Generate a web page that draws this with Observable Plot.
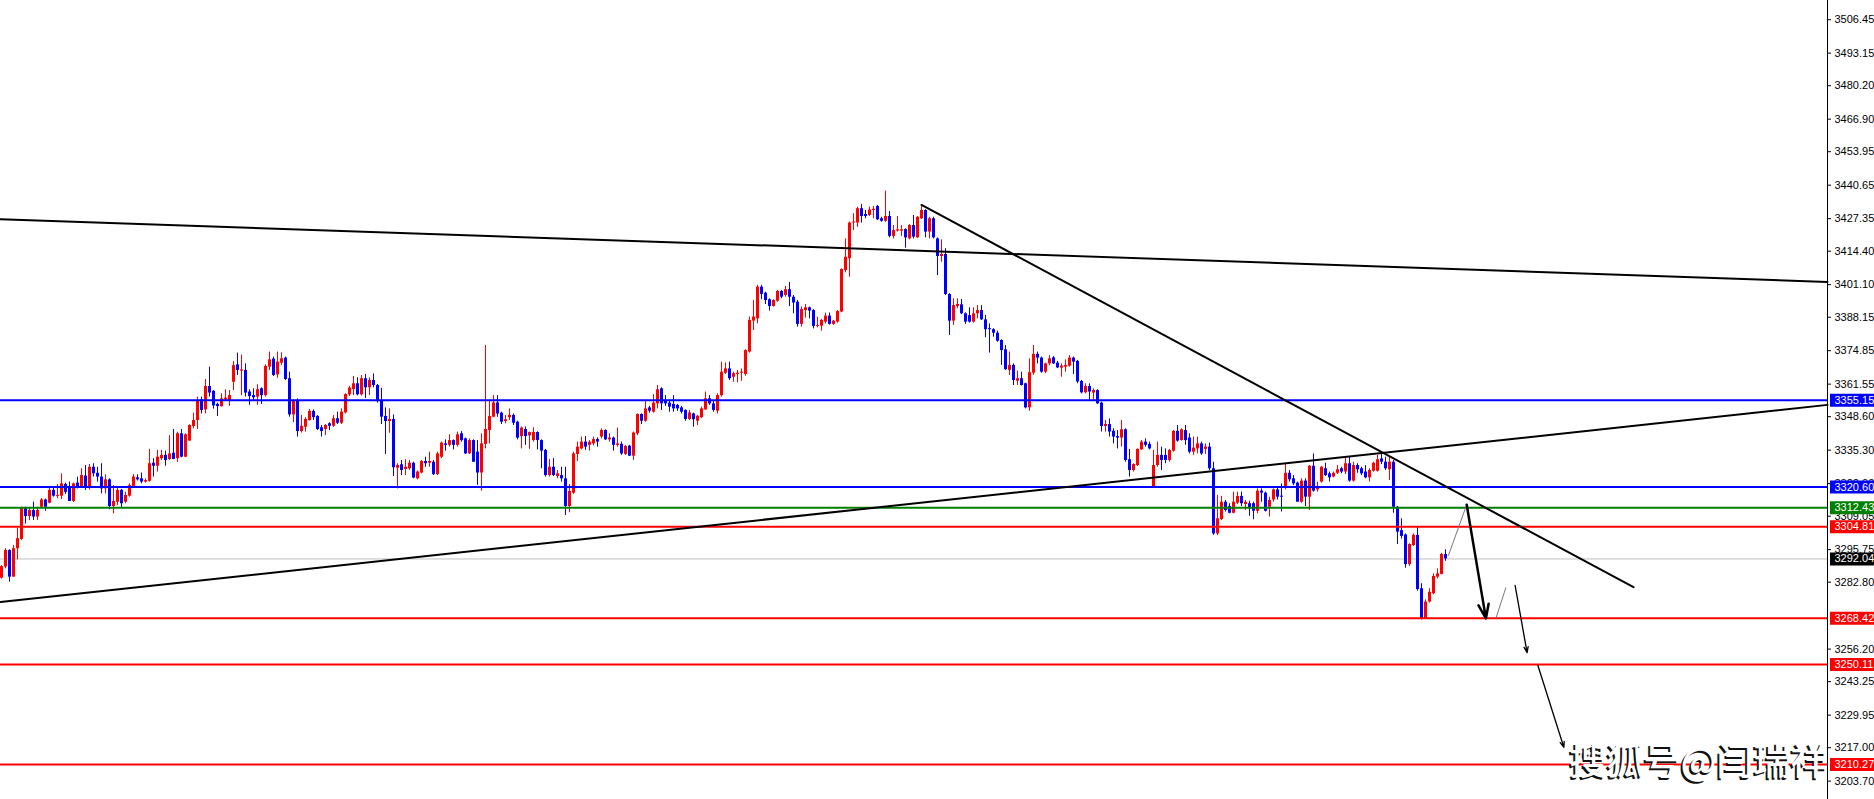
<!DOCTYPE html>
<html>
<head>
<meta charset="utf-8">
<script src="https://cdn.jsdelivr.net/npm/d3@7"></script>
<script src="https://cdn.jsdelivr.net/npm/@observablehq/plot@0.6"></script>
<style>
  html, body { margin: 0; padding: 0; background: #ffffff; }
  #chart svg { display: block; }
</style>
</head>
<body>
<div id="chart"></div>
<script>
// Gold H1 candles: open / high / low / close, oldest first
const opens = [
  3284.4,3288.8,3295.4,3284.8,3296.1,3299.8,3312.4,3308.9,3311.3,3308.7,
  3312.6,3315.5,3314.2,3319.3,3316.9,3317.0,3321.7,3320.6,3314.9,3322.2,
  3320.6,3325.0,3320.6,3328.5,3326.1,3324.6,3319.9,3323.5,3312.9,3314.6,
  3319.3,3314.6,3317.0,3320.9,3324.3,3323.9,3322.6,3322.9,3330.1,3328.9,
  3331.9,3333.2,3331.6,3334.1,3331.9,3341.8,3332.5,3338.9,3344.7,3347.1,
  3355.3,3351.3,3360.6,3358.7,3353.5,3352.6,3355.3,3355.0,3362.3,3369.2,
  3366.7,3367.0,3358.4,3357.0,3356.4,3359.7,3357.0,3368.3,3371.5,3365.2,
  3369.9,3371.9,3363.7,3349.3,3355.0,3342.7,3344.4,3347.1,3350.7,3348.7,
  3344.2,3343.5,3345.8,3344.8,3347.8,3346.0,3350.1,3357.3,3359.4,3361.7,
  3357.3,3363.7,3360.1,3363.0,3361.0,3355.0,3348.7,3346.7,3347.5,3328.1,
  3329.5,3327.6,3327.9,3330.1,3323.9,3326.2,3330.8,3330.1,3330.5,3325.6,
  3332.5,3337.8,3337.2,3339.1,3337.2,3341.8,3339.8,3333.8,3339.1,3334.5,
  3326.2,3337.6,3343.1,3348.4,3354.1,3350.0,3346.7,3348.2,3349.1,3346.4,
  3340.7,3343.5,3341.0,3339.1,3342.3,3339.1,3335.2,3325.2,3328.5,3324.8,
  3325.2,3323.9,3312.9,3318.2,3333.6,3335.8,3338.5,3337.2,3337.8,3339.5,
  3340.5,3343.1,3339.4,3340.1,3337.2,3337.6,3333.6,3336.9,3332.9,3341.8,
  3349.5,3346.8,3352.1,3350.4,3353.7,3359.7,3355.0,3354.0,3353.5,3353.1,
  3352.1,3351.1,3347.5,3349.7,3346.8,3348.2,3351.3,3355.7,3353.7,3350.8,
  3357.0,3365.9,3367.6,3364.3,3365.4,3365.9,3365.4,3374.3,3386.6,3387.5,
  3400.1,3397.7,3395.1,3392.4,3394.5,3398.4,3396.8,3399.1,3396.1,3394.1,
  3385.3,3390.8,3391.9,3390.8,3384.5,3384.6,3386.2,3388.6,3385.3,3386.2,
  3390.2,3406.7,3411.4,3425.6,3425.6,3431.3,3429.0,3428.6,3430.6,3432.2,
  3427.3,3426.3,3428.2,3420.3,3422.4,3422.4,3423.0,3419.3,3424.6,3419.7,
  3427.3,3430.6,3422.0,3427.3,3419.3,3412.3,3413.1,3397.2,3386.6,3392.4,
  3393.1,3389.5,3388.8,3386.2,3389.5,3390.8,3387.1,3383.6,3383.2,3381.8,
  3378.9,3375.2,3367.0,3369.0,3362.7,3363.7,3361.7,3352.1,3365.9,3373.4,
  3371.9,3366.3,3369.6,3372.0,3369.9,3367.9,3368.3,3368.7,3371.9,3370.6,
  3362.6,3358.1,3360.6,3358.0,3359.0,3354.0,3344.7,3345.5,3342.8,3340.7,
  3340.1,3343.4,3331.5,3327.2,3329.2,3335.4,3338.5,3337.6,3320.6,3329.2,
  3333.2,3333.2,3331.2,3334.9,3342.8,3339.1,3343.1,3340.1,3334.5,3335.8,
  3337.8,3335.6,3336.5,3327.9,3302.0,3307.7,3314.6,3312.9,3310.2,3314.2,
  3316.9,3313.7,3314.0,3314.0,3311.0,3319.0,3318.2,3312.6,3315.5,3319.5,
  3316.6,3320.3,3326.1,3323.9,3322.2,3314.6,3323.0,3316.6,3328.9,3319.5,
  3322.6,3327.9,3325.9,3324.6,3326.1,3327.9,3326.6,3329.9,3323.0,3329.2,
  3327.9,3326.6,3324.3,3326.9,3326.9,3331.8,3330.5,3327.5,3330.5,3312.6,
  3303.3,3301.6,3289.8,3297.4,3301.4,3280.2,3268.2,3274.9,3278.2,3284.8,
  3285.9,3293.8
];
const highs = [
  3289.4,3296.1,3295.7,3297.4,3304.3,3312.6,3312.6,3312.4,3314.6,3312.6,
  3316.1,3315.8,3320.3,3320.3,3321.6,3325.9,3322.2,3322.6,3322.2,3324.6,
  3327.9,3329.2,3329.6,3329.9,3328.5,3329.9,3325.5,3323.9,3321.2,3320.6,
  3319.7,3318.6,3321.9,3325.6,3325.5,3326.2,3323.9,3335.6,3331.9,3335.2,
  3335.2,3334.9,3341.1,3343.5,3342.4,3343.5,3341.8,3345.4,3350.0,3356.4,
  3356.4,3363.4,3368.3,3359.0,3354.0,3357.7,3359.3,3359.0,3370.5,3373.9,
  3373.1,3369.6,3359.3,3359.7,3361.3,3360.1,3369.2,3374.3,3372.3,3374.3,
  3374.0,3372.3,3366.3,3355.3,3355.7,3349.1,3348.2,3351.5,3351.3,3349.1,
  3345.1,3345.5,3346.2,3349.1,3350.4,3351.7,3357.7,3360.6,3364.6,3364.1,
  3365.0,3365.4,3364.1,3365.6,3361.4,3359.9,3352.1,3351.7,3349.3,3329.9,
  3331.2,3331.5,3331.2,3330.5,3327.0,3331.2,3332.5,3334.5,3331.2,3334.5,
  3338.5,3339.4,3341.4,3339.4,3342.5,3342.7,3340.1,3339.8,3339.4,3339.1,
  3341.8,3376.9,3355.0,3357.0,3357.0,3350.4,3349.1,3351.7,3349.7,3346.8,
  3344.5,3344.5,3342.5,3344.2,3342.6,3339.4,3335.6,3331.6,3331.9,3327.2,
  3328.5,3328.5,3321.7,3334.5,3338.5,3340.5,3340.7,3339.1,3340.5,3340.2,
  3343.8,3343.4,3341.8,3340.5,3344.1,3338.5,3337.2,3337.2,3342.5,3349.7,
  3349.7,3355.0,3352.7,3357.4,3361.0,3360.1,3357.0,3355.3,3357.0,3353.5,
  3352.7,3351.3,3351.1,3350.0,3349.1,3352.4,3358.4,3357.0,3355.0,3357.7,
  3370.3,3370.0,3370.3,3366.3,3367.0,3367.6,3375.2,3388.2,3394.8,3400.8,
  3400.8,3398.1,3395.5,3395.1,3398.8,3398.8,3400.4,3402.0,3396.8,3394.8,
  3392.2,3393.2,3392.2,3391.2,3388.2,3387.3,3389.8,3389.8,3386.9,3390.8,
  3407.4,3419.3,3426.0,3429.3,3431.9,3433.0,3430.6,3431.9,3432.2,3432.6,
  3427.9,3438.3,3430.2,3424.6,3428.2,3424.6,3423.3,3425.0,3428.6,3428.2,
  3432.6,3430.9,3427.9,3427.9,3419.7,3418.9,3415.4,3397.5,3395.5,3395.5,
  3395.2,3389.9,3391.9,3391.9,3392.8,3392.8,3388.9,3385.5,3383.6,3382.6,
  3379.2,3376.9,3374.3,3369.6,3366.7,3366.3,3361.9,3371.6,3376.9,3374.3,
  3372.3,3369.9,3372.9,3372.5,3370.6,3369.6,3371.2,3372.9,3372.3,3371.0,
  3363.0,3361.7,3361.7,3359.7,3359.3,3354.4,3347.1,3347.7,3343.8,3343.1,
  3347.1,3343.8,3335.6,3329.9,3335.8,3339.1,3339.8,3338.5,3335.2,3338.5,
  3336.5,3335.8,3335.5,3343.1,3345.1,3343.8,3345.1,3341.8,3340.5,3340.5,
  3338.5,3337.8,3338.1,3330.5,3317.3,3316.9,3315.3,3314.0,3318.6,3318.6,
  3318.6,3315.3,3315.0,3314.6,3319.9,3319.9,3318.6,3316.6,3319.9,3320.3,
  3321.9,3329.9,3327.2,3325.2,3322.6,3323.9,3323.9,3329.2,3333.8,3322.6,
  3328.8,3330.1,3326.6,3326.6,3329.2,3328.5,3332.2,3332.5,3330.5,3329.9,
  3328.5,3329.2,3327.9,3330.5,3333.2,3333.6,3332.5,3332.5,3331.2,3312.9,
  3308.0,3302.0,3298.1,3302.0,3304.7,3282.2,3275.8,3280.2,3286.1,3288.1,
  3294.3,3295.7
];
const lows = [
  3284.0,3288.1,3282.8,3284.8,3291.7,3299.4,3305.9,3307.3,3307.3,3307.3,
  3312.4,3311.0,3314.0,3316.6,3316.0,3315.7,3317.7,3314.9,3314.5,3319.9,
  3320.3,3319.3,3319.4,3324.6,3322.6,3317.9,3317.9,3311.6,3310.0,3313.3,
  3312.0,3314.0,3316.6,3320.6,3323.0,3321.9,3322.2,3322.6,3324.6,3326.6,
  3331.2,3328.9,3331.2,3331.5,3330.4,3332.3,3332.3,3338.9,3343.8,3343.5,
  3349.7,3349.7,3356.4,3351.6,3348.7,3352.4,3355.0,3352.7,3359.0,3365.0,
  3357.0,3356.4,3353.1,3355.0,3353.1,3353.5,3356.4,3367.0,3364.6,3363.9,
  3369.0,3363.0,3348.4,3346.2,3340.5,3342.1,3342.5,3346.8,3347.1,3343.1,
  3340.5,3341.1,3343.1,3344.4,3345.5,3345.5,3349.7,3356.6,3357.0,3356.9,
  3356.8,3355.8,3357.0,3360.1,3354.0,3345.5,3333.6,3342.0,3324.8,3319.9,
  3325.2,3325.2,3327.2,3323.9,3323.5,3325.9,3328.5,3328.5,3325.2,3325.2,
  3331.9,3334.9,3336.5,3335.4,3336.5,3338.5,3333.6,3333.6,3330.4,3321.3,
  3319.0,3335.8,3337.8,3348.2,3348.4,3345.5,3345.8,3347.1,3345.1,3339.4,
  3335.8,3337.2,3335.6,3338.5,3335.4,3327.9,3324.6,3324.6,3324.8,3323.9,
  3322.6,3309.3,3310.4,3317.7,3330.8,3335.4,3335.2,3334.9,3337.0,3336.5,
  3339.8,3339.1,3338.5,3334.9,3336.5,3333.2,3333.2,3332.8,3331.2,3341.1,
  3345.5,3346.4,3350.0,3350.0,3351.7,3351.1,3352.7,3350.4,3350.4,3350.7,
  3349.7,3346.8,3347.1,3344.4,3345.1,3347.8,3351.1,3353.1,3350.4,3349.7,
  3356.4,3365.4,3363.0,3362.3,3362.1,3362.7,3364.7,3373.9,3382.9,3385.5,
  3395.1,3393.2,3390.6,3392.2,3394.1,3395.5,3396.1,3392.4,3389.5,3384.2,
  3384.2,3387.8,3387.5,3383.5,3383.9,3382.6,3385.5,3385.0,3384.9,3385.8,
  3389.9,3405.8,3404.1,3422.6,3423.9,3425.6,3427.3,3428.2,3427.3,3426.6,
  3425.9,3425.9,3419.7,3419.3,3422.0,3420.3,3415.6,3418.9,3419.3,3419.5,
  3427.0,3419.7,3419.3,3419.3,3404.7,3410.0,3396.8,3380.9,3384.9,3391.5,
  3389.2,3385.3,3385.8,3385.8,3387.5,3386.9,3380.0,3373.9,3380.2,3378.2,
  3369.0,3367.0,3365.0,3361.0,3361.0,3360.8,3351.7,3350.8,3365.0,3369.6,
  3365.9,3365.7,3368.9,3369.4,3367.7,3364.3,3366.3,3368.3,3365.4,3361.7,
  3357.7,3357.7,3355.1,3355.1,3353.5,3342.5,3342.5,3340.5,3337.8,3335.8,
  3336.5,3330.5,3324.6,3326.6,3328.8,3335.2,3336.5,3335.4,3320.3,3328.5,
  3327.2,3329.9,3330.5,3334.5,3338.5,3338.9,3337.2,3333.8,3333.2,3333.8,
  3333.2,3333.6,3327.2,3301.4,3301.4,3307.3,3310.7,3310.0,3310.0,3313.7,
  3312.9,3311.3,3309.0,3307.6,3310.0,3314.6,3310.7,3308.7,3314.6,3315.5,
  3310.7,3319.5,3322.6,3321.2,3314.6,3314.2,3312.9,3311.3,3318.6,3318.6,
  3322.2,3324.8,3322.6,3324.3,3325.6,3325.9,3325.6,3322.6,3322.6,3326.1,
  3325.2,3323.9,3322.6,3326.6,3326.6,3329.6,3327.2,3323.2,3310.2,3297.8,
  3300.0,3288.4,3289.0,3297.0,3279.2,3267.8,3268.2,3274.5,3277.8,3284.1,
  3285.7,3291.1
];
const closes = [
  3289.0,3295.4,3284.8,3296.1,3300.1,3312.4,3308.9,3311.3,3308.7,3311.3,
  3315.5,3312.6,3319.3,3317.0,3317.3,3321.9,3318.5,3314.9,3321.9,3320.6,
  3325.2,3320.6,3328.5,3325.9,3324.6,3319.9,3323.5,3312.9,3314.9,3319.3,
  3314.0,3317.3,3321.2,3324.6,3323.5,3322.6,3323.2,3329.9,3328.9,3332.5,
  3333.2,3331.2,3333.8,3331.6,3341.8,3332.5,3341.4,3345.1,3347.1,3355.0,
  3351.1,3360.6,3358.0,3352.9,3352.6,3355.7,3356.0,3357.0,3368.9,3367.0,
  3367.2,3358.0,3356.6,3356.1,3359.3,3357.0,3368.6,3371.2,3365.0,3370.3,
  3371.6,3363.4,3349.3,3355.0,3342.7,3344.8,3347.5,3350.7,3348.2,3343.5,
  3342.7,3345.1,3344.8,3347.8,3346.0,3350.4,3357.4,3360.0,3361.7,3357.3,
  3363.7,3360.1,3363.0,3361.0,3354.6,3348.4,3346.7,3347.5,3328.3,3329.2,
  3327.2,3328.5,3330.1,3324.2,3326.6,3330.8,3329.9,3330.8,3325.6,3333.8,
  3338.1,3337.2,3339.1,3337.2,3341.4,3339.1,3333.8,3339.1,3330.5,3326.2,
  3337.8,3343.5,3348.7,3354.1,3349.7,3346.4,3347.4,3349.1,3346.0,3340.1,
  3344.1,3340.7,3342.3,3342.3,3339.1,3334.9,3325.2,3328.5,3325.2,3325.9,
  3323.9,3312.9,3318.9,3333.8,3336.5,3338.5,3336.5,3338.5,3339.5,3338.5,
  3343.1,3339.4,3340.1,3337.2,3337.8,3333.8,3336.8,3332.9,3342.1,3349.5,
  3346.8,3351.7,3350.8,3354.0,3359.3,3353.7,3353.7,3352.4,3351.7,3351.7,
  3350.4,3347.5,3350.1,3347.4,3348.8,3351.7,3355.7,3353.7,3351.1,3357.0,
  3366.3,3367.6,3363.7,3365.7,3365.9,3366.2,3374.9,3386.9,3388.2,3400.1,
  3397.2,3394.8,3392.4,3394.8,3398.4,3396.1,3399.1,3396.1,3393.8,3385.3,
  3391.2,3391.9,3390.6,3384.5,3384.9,3386.9,3388.6,3385.3,3386.6,3390.4,
  3407.1,3412.0,3425.6,3426.0,3431.3,3428.2,3428.2,3430.8,3431.1,3426.9,
  3426.3,3428.2,3420.3,3422.6,3422.9,3422.9,3419.7,3424.6,3420.0,3427.9,
  3430.6,3422.0,3427.3,3419.7,3412.3,3413.1,3397.2,3386.6,3392.8,3393.2,
  3389.5,3386.2,3386.2,3389.5,3390.8,3387.1,3383.2,3383.2,3381.8,3378.6,
  3374.9,3367.3,3369.0,3363.0,3363.7,3361.0,3352.1,3366.1,3373.4,3371.9,
  3366.3,3369.6,3371.6,3369.6,3368.0,3368.7,3369.0,3371.9,3370.3,3362.4,
  3358.1,3360.6,3358.4,3359.0,3353.7,3344.7,3345.5,3342.5,3340.5,3340.1,
  3343.4,3331.2,3327.2,3329.6,3335.6,3338.5,3337.2,3335.8,3329.2,3333.2,
  3331.2,3331.2,3335.2,3342.8,3338.9,3343.4,3339.1,3334.5,3336.1,3337.8,
  3333.8,3336.5,3327.9,3302.0,3308.0,3314.6,3311.3,3310.2,3314.6,3316.9,
  3314.0,3314.6,3312.0,3311.0,3319.0,3318.2,3311.0,3315.3,3319.5,3316.6,
  3316.3,3326.1,3323.5,3321.9,3314.6,3323.0,3316.6,3328.9,3319.0,3320.9,
  3328.5,3325.2,3324.3,3326.1,3327.5,3326.6,3329.9,3323.0,3329.2,3327.5,
  3325.9,3324.3,3327.2,3330.1,3331.5,3330.5,3327.9,3330.5,3312.6,3302.7,
  3301.0,3289.8,3297.8,3301.4,3279.9,3268.2,3274.9,3278.8,3285.1,3286.1,
  3293.8,3292.04
];

// Horizontal support / resistance levels and the current bid
const levelPrices = [3355.15, 3320.60, 3312.43, 3304.81, 3268.42, 3250.11, 3210.27];
const levelColors = ["#0000ff", "#0000ff", "#008000", "#ff0000", "#ff0000", "#ff0000", "#ff0000"];
const bidPrice = 3292.04;

// Price scale tick labels
const tickValues = [3506.45, 3493.15, 3480.20, 3466.90, 3453.95, 3440.65, 3427.35, 3414.40,
  3401.10, 3388.15, 3374.85, 3361.55, 3348.60, 3335.30, 3322.00, 3309.05, 3295.75, 3282.80,
  3256.20, 3243.25, 3229.95, 3217.00, 3203.70];

// Trend lines: [bar index, price] end points
const upperTrend = [[-0.25, 3427.1], [456.5, 3402.2]];
const risingTrend = [[-0.25, 3274.9], [456.5, 3353.3]];
const fallingTrend = [[230, 3432.8], [408, 3280.8]];

// Projected path: thin connectors and arrows, [x1, p1, x2, p2]
const pathLegs = [[361.7, 3293.3, 366.3, 3313.6], [373.6, 3268.4, 376.1, 3280.7]];
const mainArrow = [[366.3, 3313.6, 371.1, 3268.4]];
const thinArrows = [[378.4, 3281.5, 381.4, 3254.8], [384.1, 3249.7, 390.6, 3217.1]];

const watermark = "搜狐号@闫瑞祥";

// ---- build the chart ----
const W = 1874, H = 799, plotRight = 1827;
const xDomain = [-0.25, 456.5];
const yDomain = [3196.4, 3514.08];

const bars = opens.map((o, i) => ({i, o, h: highs[i], l: lows[i], c: closes[i]}));
const candleColor = d => (d.c >= d.o ? "#ff0000" : "#0000ff");
const bodyTop = d => (Math.abs(d.c - d.o) < 0.4 ? d.o + 0.4 : d.c);

const levels = levelPrices.map((p, k) => ({price: p, color: levelColors[k]}));
const bid = [{price: bidPrice, color: "#000000"}];
const tagged = [...levels, ...bid];

const toPts = seg => seg.map(([i, p]) => ({i, p}));
const toLegs = list => list.map(([x1, y1, x2, y2]) => ({x1, y1, x2, y2}));

const font = "'Liberation Sans Narrow', 'Liberation Sans', Arial, sans-serif";

const chart = Plot.plot({
  width: W,
  height: H,
  marginLeft: 0,
  marginRight: W - plotRight,
  marginTop: 0,
  marginBottom: 0,
  x: {type: "linear", domain: xDomain, axis: null},
  y: {domain: yDomain, axis: null},
  style: {fontFamily: font, fontSize: "11px", background: "#ffffff", overflow: "visible"},
  marks: [
    Plot.ruleY(bid, {y: "price", stroke: "#c0c0c0", strokeWidth: 1}),
    // candles
    Plot.ruleX(bars, {x: "i", y1: "l", y2: "h", stroke: candleColor, strokeWidth: 1}),
    Plot.ruleX(bars, {x: "i", y1: "o", y2: bodyTop, stroke: candleColor, strokeWidth: 3}),
    // levels
    Plot.ruleY(levels, {y: "price", stroke: "color", strokeWidth: 2}),
    // trend lines
    Plot.line(toPts(upperTrend), {x: "i", y: "p", stroke: "#000", strokeWidth: 2}),
    Plot.line(toPts(risingTrend), {x: "i", y: "p", stroke: "#000", strokeWidth: 2}),
    Plot.line(toPts(fallingTrend), {x: "i", y: "p", stroke: "#000", strokeWidth: 2}),
    // projected path
    Plot.link(toLegs(pathLegs), {x1: "x1", y1: "y1", x2: "x2", y2: "y2", stroke: "#777", strokeWidth: 1}),
    Plot.arrow(toLegs(mainArrow), {x1: "x1", y1: "y1", x2: "x2", y2: "y2", stroke: "#000", strokeWidth: 2.5, headLength: 9, headAngle: 40}),
    Plot.arrow(toLegs(thinArrows), {x1: "x1", y1: "y1", x2: "x2", y2: "y2", stroke: "#000", strokeWidth: 1.3, headLength: 7, headAngle: 40}),
    // price scale
    Plot.ruleX([xDomain[1]], {stroke: "#000", strokeWidth: 1}),
    Plot.axisY(tickValues, {anchor: "right", tickSize: 3, tickPadding: 4, tickFormat: d => d.toFixed(2), label: null, fontSize: 11, color: "#000"}),
    Plot.ruleY(tagged, {y: "price", x1: xDomain[1] + 0.75, x2: xDomain[1] + 12, stroke: "color", strokeWidth: 13}),
    Plot.text(tagged, {y: "price", x: xDomain[1], text: d => d.price.toFixed(2), dx: 7, textAnchor: "start", fill: "#fff", fontSize: 11}),
    // watermark
    Plot.text([watermark], {frameAnchor: "bottom-right", text: d => d, textAnchor: "end", lineAnchor: "bottom", dx: -2, dy: -23, fontSize: 37, fontFamily: "'Noto Sans CJK SC', sans-serif", fontWeight: 500, fill: "#111"}),
    Plot.text([watermark], {frameAnchor: "bottom-right", text: d => d, textAnchor: "end", lineAnchor: "bottom", dx: 0, dy: -25, fontSize: 37, fontFamily: "'Noto Sans CJK SC', sans-serif", fontWeight: 500, fill: "#fff"})
  ]
});

document.getElementById("chart").append(chart);
</script>
</body>
</html>
